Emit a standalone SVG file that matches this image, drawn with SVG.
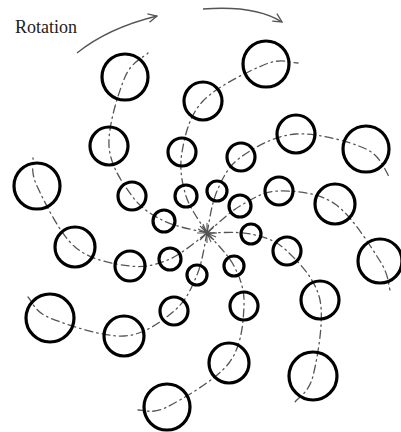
<svg xmlns="http://www.w3.org/2000/svg" width="401" height="432" viewBox="0 0 401 432">
<style>
.c{fill:none;stroke:#000;stroke-width:3.2}
.arm{fill:none;stroke:#555;stroke-width:1.3;stroke-dasharray:8 4 1.5 4;stroke-linecap:round}
.arr{fill:none;stroke:#555;stroke-width:1.3}
.lbl{font-family:"Liberation Serif",serif;font-size:18px;fill:#222}
</style>
<defs>
<marker id="ah" viewBox="0 0 10 10" refX="9" refY="5" markerWidth="11" markerHeight="11" markerUnits="userSpaceOnUse" orient="auto">
<path d="M1,1 L9,5 L1,9" fill="none" stroke="#555" stroke-width="1.2"/>
</marker>
</defs>
<rect width="401" height="432" fill="#fff"/>
<g id="label"><text class="lbl" x="15" y="33">Rotation</text></g>
<g id="rotation-arrows">
<path class="arr" d="M77,53 Q108,28 157,16" marker-end="url(#ah)"/>
<path class="arr" d="M203,9 Q255,5 282,22" marker-end="url(#ah)"/>
</g>
<g id="connectors">
<path class="arm" d="M207,233 C199.8,231 176.5,227.2 164,221 C151.5,214.8 141.2,208.5 132,196 C122.8,183.5 110.2,165.8 109,146 C107.8,126.2 118.5,92.5 125,77 C131.5,61.5 144.2,57 148,53"/>
<path class="arm" d="M207,233 C203.5,226.8 190.2,209.5 186,196 C181.8,182.5 179.2,167.8 182,152 C184.8,136.2 189,115.7 203,101 C217,86.3 250.2,70.3 266,64 C281.8,57.7 292.7,63.2 298,63"/>
<path class="arm" d="M207,233 C208.7,226 211.3,203.7 217,191 C222.7,178.3 227.8,166.5 241,157 C254.2,147.5 275.2,135.3 296,134 C316.8,132.7 350.3,141.7 366,149 C381.7,156.3 386,173.2 390,178"/>
<path class="arm" d="M207,233 C212.5,228.5 228,213 240,206 C252,199 263.2,191.3 279,191 C294.8,190.7 318.2,192.3 335,204 C351.8,215.7 370.8,246.7 380,261 C389.2,275.3 388.3,285.2 390,290"/>
<path class="arm" d="M207,233 C214.3,233.2 237.7,231 251,234 C264.3,237 275.5,240 287,251 C298.5,262 315.7,279.2 320,300 C324.3,320.8 317.2,359 313,376 C308.8,393 298,397.7 295,402"/>
<path class="arm" d="M207,233 C211.5,238.5 227.8,253.8 234,266 C240.2,278.2 244.8,289.8 244,306 C243.2,322.2 241.8,346.2 229,363 C216.2,379.8 182.2,399.2 167,407 C151.8,414.8 142.8,409.5 138,410"/>
<path class="arm" d="M207,233 C205.3,240 202.5,262 197,275 C191.5,288 186.2,300.8 174,311 C161.8,321.2 144.7,334.8 124,336 C103.3,337.2 66,324.5 50,318 C34,311.5 31.7,300.5 28,297"/>
<path class="arm" d="M207,233 C200.8,237.3 182.8,253.5 170,259 C157.2,264.5 145.8,268 130,266 C114.2,264 90.5,260.3 75,247 C59.5,233.7 44,200.8 37,186 C30,171.2 33.7,162.7 33,158"/>
<path id="center-star" d="M197,233 L217,233 M207,223 L207,243 M200,226 L214,240 M200,240 L214,226 M203,224 L211,242 M198,229 L216,237" stroke="#555" stroke-width="1.1" fill="none"/>
</g>
<g id="arm1">
<circle id="n1" class="c" cx="164" cy="221" r="11"/>
<circle id="n2" class="c" cx="132" cy="196" r="14"/>
<circle id="n3" class="c" cx="109" cy="146" r="19"/>
<circle id="n4" class="c" cx="125" cy="77" r="23"/>
</g>
<g id="arm2">
<circle id="n5" class="c" cx="186" cy="196" r="11"/>
<circle id="n6" class="c" cx="182" cy="152" r="14"/>
<circle id="n7" class="c" cx="203" cy="101" r="19"/>
<circle id="n8" class="c" cx="266" cy="64" r="23"/>
</g>
<g id="arm3">
<circle id="n9" class="c" cx="217" cy="191" r="10"/>
<circle id="n10" class="c" cx="241" cy="157" r="14"/>
<circle id="n11" class="c" cx="296" cy="134" r="19"/>
<circle id="n12" class="c" cx="366" cy="149" r="23"/>
</g>
<g id="arm4">
<circle id="n13" class="c" cx="240" cy="206" r="11"/>
<circle id="n14" class="c" cx="279" cy="191" r="14"/>
<circle id="n15" class="c" cx="335" cy="204" r="20"/>
<circle id="n16" class="c" cx="380" cy="261" r="22"/>
</g>
<g id="arm5">
<circle id="n17" class="c" cx="251" cy="234" r="10"/>
<circle id="n18" class="c" cx="287" cy="251" r="14"/>
<circle id="n19" class="c" cx="320" cy="300" r="19"/>
<circle id="n20" class="c" cx="313" cy="376" r="24"/>
</g>
<g id="arm6">
<circle id="n21" class="c" cx="234" cy="266" r="10"/>
<circle id="n22" class="c" cx="244" cy="306" r="14"/>
<circle id="n23" class="c" cx="229" cy="363" r="20"/>
<circle id="n24" class="c" cx="167" cy="407" r="23"/>
</g>
<g id="arm7">
<circle id="n25" class="c" cx="197" cy="275" r="10"/>
<circle id="n26" class="c" cx="174" cy="311" r="14"/>
<circle id="n27" class="c" cx="124" cy="336" r="20"/>
<circle id="n28" class="c" cx="50" cy="318" r="24"/>
</g>
<g id="arm8">
<circle id="n29" class="c" cx="170" cy="259" r="11"/>
<circle id="n30" class="c" cx="130" cy="266" r="15"/>
<circle id="n31" class="c" cx="75" cy="247" r="20"/>
<circle id="n32" class="c" cx="37" cy="186" r="23"/>
</g>
</svg>
